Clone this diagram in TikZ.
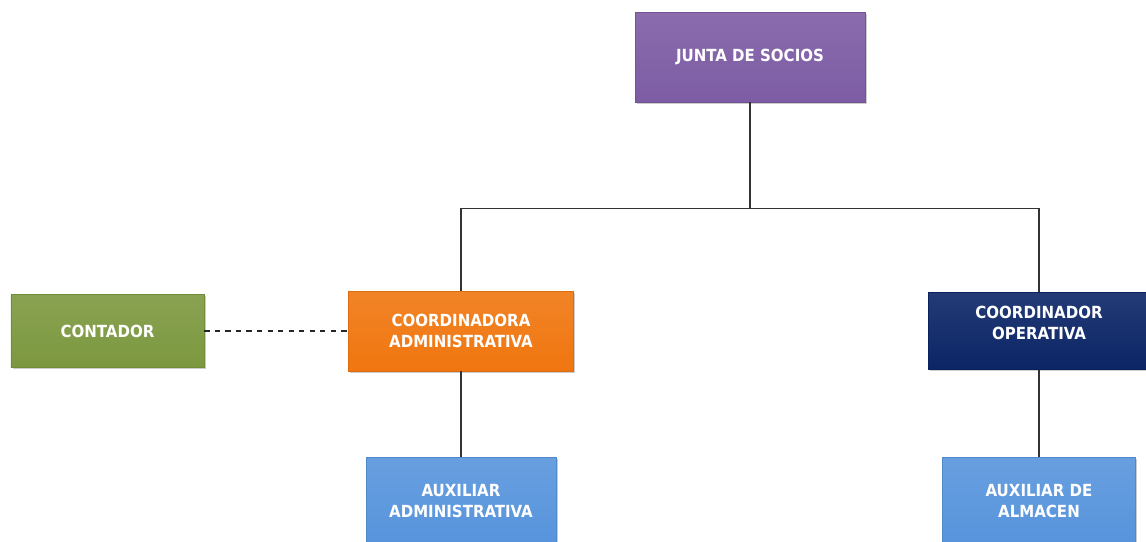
\documentclass[tikz,border=0pt]{standalone}
\usepackage{fontspec}
\newfontfamily\cajafont{DejaVu Sans Condensed}
\usetikzlibrary{positioning,shadows}

\definecolor{morado}{HTML}{7D5CA4}
\definecolor{naranja}{HTML}{F0760F}
\definecolor{verde}{HTML}{7C983F}
\definecolor{marino}{HTML}{0B2566}
\definecolor{celeste}{HTML}{5794DC}

\begin{document}
\begin{tikzpicture}[
        level 1/.style={sibling distance=11.56cm, level distance=5.48cm,
            edge from parent path={(\tikzparentnode.south) -- ++(0,-2.12) -| (\tikzchildnode.north)}},
        level 2/.style={level distance=3.4cm,
            edge from parent path={(\tikzparentnode.south) -- (\tikzchildnode.north)}},
        caja/.style = {
            shape=rectangle,
            align=center,
            inner sep=2pt,
            font=\cajafont\bfseries\fontsize{9.5}{12}\selectfont,
            text=white,
            top color=#1!90!white,
            bottom color=#1,
            draw=#1!92!black, line width=0.3pt,
            drop shadow={shadow xshift=0.9pt, shadow yshift=-1pt, opacity=0.4}
        },
        edge from parent/.style={draw, black!80, line width=0.8pt}
    ]
    \useasboundingbox (0,0) rectangle (22.92,-10.82);

    % RAIZ
    \node[caja=morado, minimum width=4.6cm, minimum height=1.8cm] (junta) at (15,-1.14) {JUNTA DE SOCIOS}
        % HIJO 1
        child {
            node[caja=naranja, minimum width=4.5cm, minimum height=1.6cm] (coordadm) {COORDINADORA \\ ADMINISTRATIVA}
            child { node[caja=celeste, minimum width=3.8cm, minimum height=1.76cm] (auxadm) {AUXILIAR \\ ADMINISTRATIVA} }
        }
        % HIJO 2
        child {
            node[caja=marino, minimum width=4.44cm, minimum height=1.54cm] (coordop) {COORDINADOR \\ OPERATIVA \\[-3pt]}
            child { node[caja=celeste, minimum width=3.86cm, minimum height=1.76cm] (auxalm) {AUXILIAR DE \\ ALMACEN} }
        };

    % APOYO
    \node[caja=verde, minimum width=3.86cm, minimum height=1.46cm, left=2.88cm of coordadm] (contador) {CONTADOR};
    \draw[dashed, black!85, line width=0.8pt] (contador.east) -- (coordadm.west);
\end{tikzpicture}
\end{document}
